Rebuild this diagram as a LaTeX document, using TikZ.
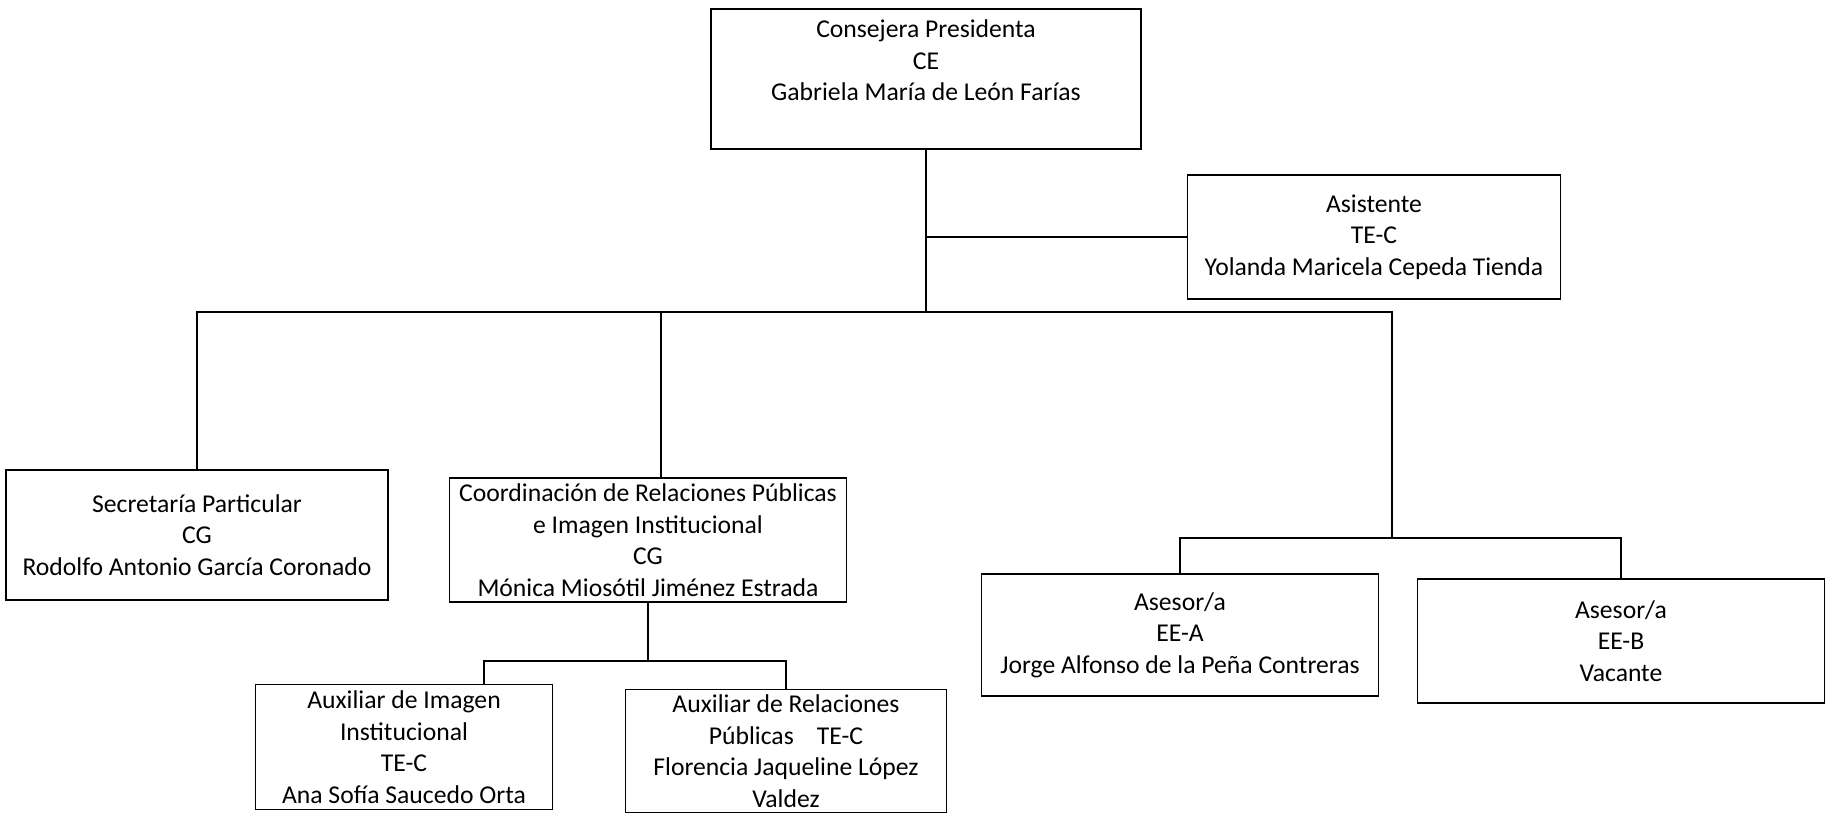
\documentclass[tikz,border=0pt]{standalone}
\usepackage{fontspec}
\setmainfont{Carlito}
\begin{document}
\begin{tikzpicture}[x=0.02cm, y=-0.02cm, font=\fontsize{14.6}{18}\selectfont,
    every node/.style={outer sep=0pt},
    box/.style={draw, line width=0.9pt, align=center, inner sep=2pt},
    link/.style={line width=0.7pt}]
    \useasboundingbox (0,0) rectangle (1827,816);
    % Top level
    \node[box, minimum width=8.6cm, minimum height=2.8cm, text depth=0.75cm] (pres) at (926,79) {Consejera Presidenta\\CE\\Gabriela María de León Farías};
    \node[box, minimum width=7.46cm, minimum height=2.48cm] (asis) at (1374,237) {Asistente\\TE-C\\Yolanda Maricela Cepeda Tienda};
    \coordinate (bus) at (926,312);
    \draw[link] (pres.south) -- (bus);
    \draw[link] (asis.west) -- (asis.west -| pres.south);

    % Second level
    \node[box, minimum width=7.64cm, minimum height=2.6cm] (sec) at (197,535) {Secretaría Particular\\CG\\Rodolfo Antonio García Coronado};
    \node[box, minimum width=7.94cm, minimum height=2.48cm] (coord) at (648,540) {Coordinación de Relaciones Públicas\\e Imagen Institucional\\CG\\Mónica Miosótil Jiménez Estrada};
    \coordinate (aseBus) at (1392,538);
    \draw[link] (sec.north) |- (bus) -| (aseBus);
    \draw[link] ([xshift=0.26cm]coord.north) -- ([xshift=0.26cm]coord.north |- bus);

    % Asesores
    \node[box, minimum width=7.94cm, minimum height=2.44cm] (aseA) at (1180,635) {Asesor/a\\EE-A\\Jorge Alfonso de la Peña Contreras};
    \node[box, minimum width=8.14cm, minimum height=2.48cm] (aseB) at (1621,641) {Asesor/a\\EE-B\\Vacante};
    \draw[link] (aseA.north) |- (aseBus) -| (aseB.north);

    % Auxiliares
    \node[box, minimum width=5.94cm, minimum height=2.5cm] (auxA) at (404,747) {Auxiliar de Imagen\\Institucional\\TE-C\\Ana Sofía Saucedo Orta};
    \node[box, minimum width=6.42cm, minimum height=2.46cm] (auxB) at (786,751) {Auxiliar de Relaciones\\Públicas\hspace{0.9em}TE-C\\Florencia Jaqueline López\\Valdez};
    \coordinate (auxBus) at (648,661);
    \draw[link] (coord.south) -- (auxBus);
    \draw[link] ([xshift=1.6cm]auxA.north) |- (auxBus) -| (auxB.north);
\end{tikzpicture}
\end{document}
